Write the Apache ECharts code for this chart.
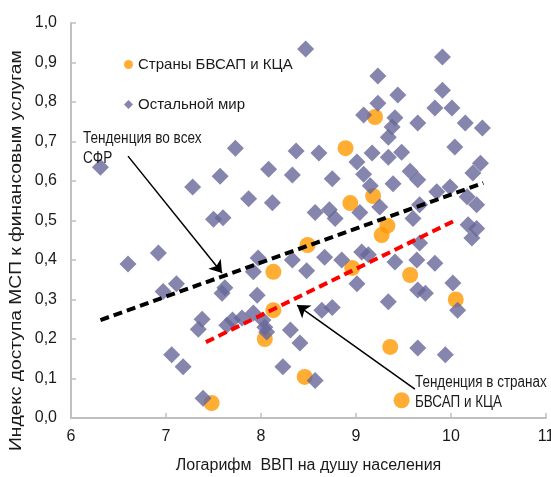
<!DOCTYPE html>
<html>
<head>
<meta charset="utf-8">
<script src="https://cdn.jsdelivr.net/npm/echarts@6/dist/echarts.min.js"></script>
<style>html,body{margin:0;padding:0;background:#fff}#c{width:551px;height:477px}</style>
</head>
<body>
<div id="c"></div>
<script>
// Data
var xTicks = [6, 7, 8, 9, 10, 11];
var yTicks = [0, 0.1, 0.2, 0.3, 0.4, 0.5, 0.6, 0.7, 0.8, 0.9, 1.0];
var seriesNames = ['Страны БВСАП и КЦА', 'Остальной мир'];
var cisPoints = [
  [8.89,0.683],[9.20,0.762],[8.94,0.544],[9.18,0.562],[8.49,0.438],[9.27,0.463],[9.33,0.487],
  [8.13,0.37],[8.96,0.38],[8.13,0.273],[9.57,0.362],[8.04,0.20],[10.05,0.30],[9.36,0.18],
  [8.46,0.104],[7.48,0.038],[9.48,0.045]
];
var worldPoints = [
  [6.31,0.635],[6.60,0.39],[6.92,0.418],[6.97,0.32],[7.11,0.34],[7.06,0.16],[7.18,0.13],[7.39,0.05],
  [7.38,0.25],[7.34,0.225],[7.28,0.585],[7.57,0.612],[7.73,0.683],[7.50,0.503],[7.60,0.507],[7.62,0.33],
  [7.59,0.316],[7.64,0.235],[7.70,0.248],[7.80,0.253],[7.92,0.266],[8.02,0.248],[8.04,0.23],[8.06,0.218],
  [7.97,0.405],[7.92,0.37],[7.96,0.311],[7.87,0.555],[8.12,0.545],[8.08,0.63],[8.33,0.615],[8.37,0.676],
  [8.61,0.671],[8.75,0.606],[8.47,0.934],[8.33,0.40],[8.31,0.223],[8.41,0.19],[8.23,0.13],[8.57,0.095],
  [8.48,0.373],[8.67,0.407],[8.85,0.40],[9.06,0.42],[9.13,0.413],[9.01,0.34],[8.64,0.273],[8.75,0.28],
  [8.57,0.52],[8.72,0.527],[8.78,0.505],[9.04,0.52],[9.01,0.648],[9.08,0.617],[9.15,0.588],[9.17,0.671],
  [9.08,0.767],[9.23,0.797],[9.23,0.866],[9.25,0.534],[9.34,0.66],[9.34,0.711],[9.38,0.737],[9.41,0.76],
  [9.44,0.818],[9.48,0.673],[9.39,0.593],[9.57,0.625],[9.65,0.603],[9.65,0.747],[9.60,0.505],[9.67,0.54],
  [9.67,0.443],[9.41,0.395],[9.64,0.40],[9.83,0.392],[9.34,0.294],[9.65,0.324],[9.73,0.316],[10.02,0.342],
  [10.07,0.273],[9.65,0.177],[9.94,0.16],[9.83,0.785],[9.91,0.914],[9.91,0.83],[10.01,0.785],[10.15,0.747],
  [10.33,0.734],[10.04,0.686],[10.31,0.645],[10.23,0.62],[9.85,0.573],[9.99,0.585],[10.17,0.56],[10.27,0.54],
  [10.18,0.489],[10.27,0.48],[10.22,0.456]
];
var trendAll = [[6.31,0.248],[10.34,0.595]];
var trendCis = [[7.42,0.192],[10.05,0.501]];
var arrowAll = [[6.60,0.663],[7.59,0.367]];
var arrowCis = [[9.62,0.073],[8.38,0.286]];
var xTitle = 'Логарифм  ВВП на душу населения';
var yTitle = 'Индекс доступа МСП к финансовым услугам';
var noteAll = 'Тенденция во всех\nСФР';
var noteCis = 'Тенденция в странах\nБВСАП и КЦА';

var chart = echarts.init(document.getElementById('c'), null, {renderer: 'canvas'});
var axisColor = '#c0c0c0';
var option = {
  animation: false,
  backgroundColor: '#fff',
  grid: {left: 71, right: 5, top: 23, bottom: 59, containLabel: false, outerBoundsMode: 'none'},
  legend: {
    data: seriesNames,
    orient: 'vertical',
    left: 119, top: 52,
    itemWidth: 9, itemHeight: 9, itemGap: 25,
    textStyle: {fontFamily: 'Liberation Sans', fontSize: 15, color: '#1a1a1a'}
  },
  xAxis: {
    type: 'value', min: xTicks[0], max: xTicks[xTicks.length-1], interval: 1,
    name: xTitle, nameLocation: 'middle', nameGap: 40,
    nameTextStyle: {fontFamily: 'Liberation Sans', fontSize: 16, color: '#1a1a1a'},
    axisLine: {show: true, lineStyle: {color: axisColor, width: 2}},
    axisTick: {show: true, inside: true, length: 5, lineStyle: {color: axisColor, width: 1.5}},
    axisLabel: {fontFamily: 'Liberation Sans', fontSize: 16, color: '#1a1a1a', margin: 11},
    splitLine: {show: false}
  },
  yAxis: {
    type: 'value', min: yTicks[0], max: yTicks[yTicks.length-1], interval: 0.1,
    axisLine: {show: true, lineStyle: {color: axisColor, width: 2}},
    axisTick: {show: true, inside: true, length: 5, lineStyle: {color: axisColor, width: 1.5}},
    axisLabel: {fontFamily: 'Liberation Sans', fontSize: 16, color: '#1a1a1a', margin: 14,
      formatter: function (v) { return v.toFixed(1).replace('.', ','); }},
    splitLine: {show: false}
  },
  graphic: [
    {type: 'text', x: 83, y: 129, scaleX: 0.85, z: 100,
      style: {text: noteAll, font: '16px "Liberation Sans"', fill: '#1a1a1a', lineHeight: 20,
        align: 'left', verticalAlign: 'top'}},
    {type: 'text', x: 415, y: 373, scaleX: 0.84, z: 100,
      style: {text: noteCis, font: '16px "Liberation Sans"', fill: '#1a1a1a', lineHeight: 20,
        align: 'left', verticalAlign: 'top'}},
    {type: 'text', x: 9, y: 451, rotation: Math.PI / 2, scaleX: 1.2, z: 100,
      style: {text: yTitle, font: '16px "Liberation Sans"', fill: '#1a1a1a',
        align: 'left', verticalAlign: 'top'}}
  ],
  series: [
    {
      name: seriesNames[0], type: 'scatter', symbol: 'circle', symbolSize: 16,
      itemStyle: {color: '#ff9900'}, data: cisPoints, z: 2
    },
    {
      name: seriesNames[1], type: 'scatter', symbol: 'diamond', symbolSize: 17,
      itemStyle: {color: '#666699'}, data: worldPoints, z: 3
    },
    {
      name: 'trendAll', type: 'line', data: trendAll, symbol: 'none', z: 5,
      lineStyle: {color: '#000', width: 4, type: [9, 5]},
      markLine: {
        silent: true, symbol: ['none', 'arrow'], symbolSize: 12,
        label: {show: false},
        lineStyle: {color: '#000', width: 1.5, type: 'solid'},
        data: [
          [{coord: arrowAll[0]}, {coord: arrowAll[1]}],
          [{coord: arrowCis[0]}, {coord: arrowCis[1]}]
        ]
      }
    },
    {
      name: 'trendCis', type: 'line', data: trendCis, symbol: 'none', z: 5,
      lineStyle: {color: '#ff0000', width: 4, type: [9, 5]}
    }
  ]
};
chart.setOption(option);
</script>
</body>
</html>
